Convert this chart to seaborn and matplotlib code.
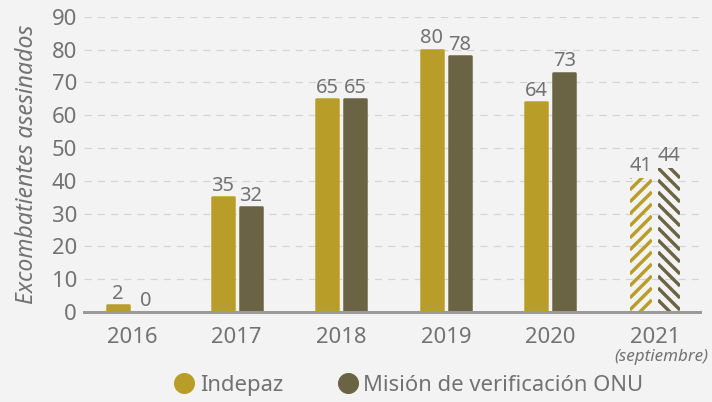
import matplotlib
matplotlib.use("Agg")
import matplotlib.pyplot as plt
from matplotlib.lines import Line2D
import numpy as np
import seaborn as sns
import pandas as pd

# Data
years = ["2016", "2017", "2018", "2019", "2020", "2021"]
indepaz = [2, 35, 65, 80, 64, 41]
onu = [0, 32, 65, 78, 73, 44]
series_names = ["Indepaz", "Misión de verificación ONU"]
y_ticks = [0, 10, 20, 30, 40, 50, 60, 70, 80, 90]
partial_year = "2021"

GOLD = "#b89e29"
OLIVE = "#6b6444"
BG = "#f3f3f3"
TXT = "#727272"
FONT = ["Noto Sans", "DejaVu Sans"]

df = pd.DataFrame({
    "year": years * 2,
    "value": indepaz + onu,
    "source": [series_names[0]] * len(years) + [series_names[1]] * len(years),
})

sns.set_theme(style="white")
plt.rcParams["font.family"] = FONT

DPI = 72
fig = plt.figure(figsize=(712 / DPI, 402 / DPI), dpi=DPI, facecolor=BG)
ax = fig.add_axes([0.118, 0.224, 0.865, 0.734])
ax.set_facecolor(BG)

sns.barplot(data=df, x="year", y="value", hue="source", order=years,
            hue_order=series_names, palette=[GOLD, OLIVE], width=0.54,
            gap=0.22, saturation=1, legend=False, ax=ax)

ax.set_ylim(0, 90)
ax.set_xlim(-0.46, 5.43)

colors = [GOLD, OLIVE]
values = [indepaz, onu]


def stripe_bar(bar, color, direction, spacing=12.0, lw=3.4):
    """Fill a bar with diagonal stripes (45 degrees in screen space)."""
    x0, y0 = bar.get_x(), bar.get_y()
    x1, y1 = x0 + bar.get_width(), y0 + bar.get_height()
    (px0, py0), (px1, py1) = ax.transData.transform([(x0, y0), (x1, y1)])
    w = px1 - px0
    inv = ax.transData.inverted()
    for c in np.arange(py0 - w - spacing, py1 + spacing, spacing):
        if direction > 0:
            seg = [(px0, c), (px1, c + w)]
        else:
            seg = [(px0, c + w), (px1, c)]
        (dx0, dy0), (dx1, dy1) = inv.transform(seg)
        ln = Line2D([dx0, dx1], [dy0, dy1], color=color, linewidth=lw,
                    solid_capstyle="butt", zorder=bar.get_zorder())
        ax.add_line(ln)
        ln.set_clip_path(bar)


for ci, cont in enumerate(ax.containers):
    for bi, bar in enumerate(cont.patches):
        bar.set_edgecolor(colors[ci])
        bar.set_linewidth(2.5)
        bar.set_joinstyle("round")
        if years[bi] == partial_year:
            bar.set_facecolor("none")
            bar.set_linewidth(0)
            stripe_bar(bar, colors[ci], 1 if ci == 0 else -1)
        ax.text(bar.get_x() + bar.get_width() / 2, bar.get_height() + 1.9,
                f"{values[ci][bi]}", ha="center", va="baseline", fontsize=20,
                color=TXT)

ax.set_yticks(y_ticks)
ax.set_yticklabels([str(t) for t in y_ticks], fontsize=22, color=TXT)
ax.set_xticks(range(len(years)))
ax.set_xticklabels(years, fontsize=22, color=TXT)
ax.tick_params(axis="y", length=0, pad=7)
ax.tick_params(axis="x", length=0, pad=15)

ax.yaxis.grid(True, linestyle=(0, (6, 5)), color="#d4d4d4", linewidth=1.2)
ax.set_axisbelow(True)
for s in ["top", "right", "left"]:
    ax.spines[s].set_visible(False)
ax.spines["bottom"].set_color("#9a9a9a")
ax.spines["bottom"].set_linewidth(3)
ax.spines["bottom"].set_zorder(5)

ax.set_xlabel("")
ax.set_ylabel("Excombatientes asesinados", fontsize=23, color=TXT,
              style="italic", labelpad=13)

ax.text(5.06, -13.6, "(septiembre)", ha="center", va="center", fontsize=17,
        style="italic", color=TXT)

handles = [Line2D([], [], marker="o", linestyle="", markersize=20,
                  markerfacecolor=c, markeredgecolor=c) for c in colors]
fig.legend(handles, series_names, loc="center", bbox_to_anchor=(0.566, 0.042),
           ncol=2, frameon=False, handletextpad=-0.3, columnspacing=1.95,
           labelcolor=TXT, prop={"family": FONT, "size": 22})

fig.savefig("out.png", dpi=DPI, facecolor=BG)
